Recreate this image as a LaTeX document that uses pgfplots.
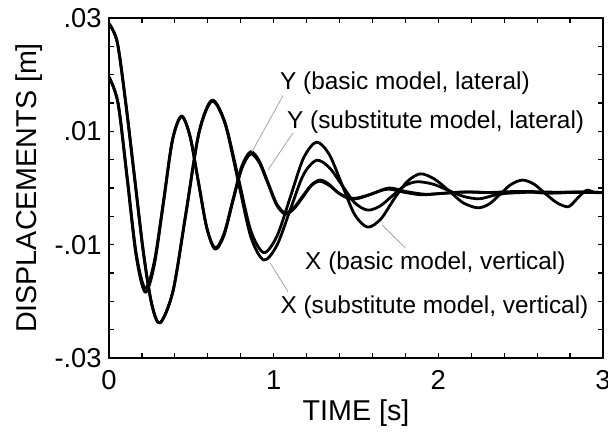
\documentclass[border=0pt]{standalone}
\usepackage{fontspec}
\setmainfont{Liberation Sans}
\usepackage{pgfplots}
\pgfplotsset{compat=1.18}

\newcommand{\lbl}{\fontsize{18.3}{21}\selectfont}
\newcommand{\axl}{\fontsize{21.5}{24}\selectfont}
\newcommand{\tkl}{\fontsize{20.5}{24}\selectfont}
\pgfplotsset{curve/.style={black, line width=2.1pt, smooth, line join=round, mark=none}}

\begin{document}
\begin{tikzpicture}
\begin{axis}[
    name=ax,
    at={(0,0)}, anchor=south west,
    scale only axis,
    width=370.5pt, height=255pt,
    xmin=0, xmax=3,
    ymin=-0.03, ymax=0.03,
    xtick={0,1,2,3},
    xticklabels={0,1,2,3},
    minor x tick num=4,
    ytick={-0.03,-0.01,0.01,0.03},
    yticklabels={-.03,-.01,.01,.03},
    minor y tick num=3,
    scaled y ticks=false,
    tick align=inside,
    major tick length=4pt,
    minor tick length=4pt,
    every tick/.style={black, line width=0.9pt},
    axis line style={line width=1.3pt},
    tick label style={font=\tkl},
    xticklabel style={yshift=-6pt},
    yticklabel style={xshift=-2pt},
    xlabel={TIME [s]},
    ylabel={DISPLACEMENTS [m]},
    label style={font=\axl},
    xlabel style={at={(axis description cs:0.5,-0.162)}, anchor=center},
    ylabel style={at={(axis description cs:-0.162,0.5)}, anchor=center},
    clip=true,
]

% X, basic model, vertical
\addplot[curve] coordinates {
(0.000,0.0290) (0.050,0.0258) (0.100,0.0155) (0.155,0.0020) (0.210,-0.0115)
(0.260,-0.0205) (0.310,-0.0238) (0.389,-0.0181) (0.468,-0.0042) (0.546,0.0098)
(0.625,0.0155) (0.704,0.0116) (0.783,0.0021) (0.861,-0.0075) (0.940,-0.0114)
(1.020,-0.0085) (1.100,-0.0017) (1.180,0.0052) (1.260,0.0081) (1.338,0.0059)
(1.415,0.0006) (1.492,-0.0047) (1.570,-0.0069) (1.650,-0.0055) (1.730,-0.0020)
(1.810,0.0011) (1.890,0.0025) (1.975,0.0016) (2.065,-0.0005) (2.150,-0.0026)
(2.240,-0.0035) (2.310,-0.0028) (2.375,-0.0011) (2.440,0.0006) (2.510,0.0014)
(2.580,0.0007) (2.650,-0.0010) (2.720,-0.0026) (2.790,-0.0033) (2.845,-0.0018)
(2.900,-0.0004) (2.950,-0.0008) (3.000,-0.0008)
};

% X, substitute model, vertical
\addplot[curve] coordinates {
(0.000,0.0290) (0.050,0.0257) (0.100,0.0153) (0.155,0.0018) (0.210,-0.0117)
(0.260,-0.0206) (0.310,-0.0238) (0.389,-0.0182) (0.468,-0.0044) (0.546,0.0096)
(0.625,0.0153) (0.704,0.0114) (0.783,0.0014) (0.861,-0.0086) (0.940,-0.0127)
(1.020,-0.0101) (1.100,-0.0039) (1.180,0.0023) (1.260,0.0049) (1.338,0.0036)
(1.415,0.0005) (1.492,-0.0026) (1.570,-0.0039) (1.645,-0.0032) (1.720,-0.0014)
(1.795,0.0004) (1.870,0.0011) (1.965,0.0007) (2.060,-0.0004) (2.155,-0.0015)
(2.250,-0.0019) (2.350,-0.0012) (2.450,-0.0008) (2.550,-0.0006) (2.700,-0.0009)
(2.850,-0.0007) (3.000,-0.0008)
};

% Y, basic model, lateral
\addplot[curve] coordinates {
(0.000,0.0196) (0.055,0.0150) (0.110,0.0020) (0.165,-0.0115) (0.220,-0.0177)
(0.275,-0.0130) (0.330,-0.0025) (0.385,0.0085) (0.440,0.0127) (0.492,0.0092)
(0.543,0.0011) (0.594,-0.0070) (0.645,-0.0106) (0.699,-0.0080) (0.752,-0.0021)
(0.806,0.0038) (0.860,0.0064) (0.912,0.0048) (0.965,0.0010) (1.018,-0.0028)
(1.070,-0.0044) (1.122,-0.0035) (1.175,-0.0015) (1.228,0.0005) (1.280,0.0014)
(1.330,0.0008) (1.390,-0.0008) (1.450,-0.0017) (1.500,-0.0018) (1.580,-0.0012)
(1.690,-0.0002) (1.800,-0.0008) (1.900,-0.0012) (2.000,-0.0010) (2.150,-0.0007)
(2.300,-0.0008) (2.500,-0.0006) (2.650,-0.0009) (2.800,-0.0007) (3.000,-0.0008)
};

% Y, substitute model, lateral
\addplot[curve] coordinates {
(0.000,0.0196) (0.055,0.0149) (0.110,0.0017) (0.165,-0.0120) (0.220,-0.0184)
(0.275,-0.0136) (0.330,-0.0028) (0.385,0.0083) (0.440,0.0126) (0.492,0.0091)
(0.543,0.0010) (0.594,-0.0071) (0.645,-0.0108) (0.699,-0.0083) (0.752,-0.0024)
(0.806,0.0034) (0.860,0.0060) (0.912,0.0045) (0.965,0.0008) (1.018,-0.0030)
(1.070,-0.0046) (1.122,-0.0037) (1.175,-0.0017) (1.228,0.0004) (1.280,0.0012)
(1.340,0.0004) (1.400,-0.0010) (1.460,-0.0019) (1.520,-0.0018) (1.600,-0.0010)
(1.700,0.0000) (1.800,-0.0006) (1.920,-0.0011) (2.050,-0.0009) (2.200,-0.0007)
(2.400,-0.0009) (2.600,-0.0007) (2.800,-0.0008) (3.000,-0.0008)
};

% labels and leader lines
\draw[gray!70, line width=0.6pt] (axis cs:1.057,0.0163) -- (axis cs:0.868,0.0064);
\draw[gray!70, line width=0.6pt] (axis cs:1.117,0.0097) -- (axis cs:0.965,0.0032);
\draw[gray!70, line width=0.6pt] (axis cs:1.800,-0.0106) -- (axis cs:1.658,-0.0065);
\draw[gray!70, line width=0.6pt] (axis cs:1.087,-0.0183) -- (axis cs:0.978,-0.0132);
\node[anchor=west, inner sep=0pt, font=\lbl] at (axis cs:1.038,0.0185) {Y (basic model, lateral)};
\node[anchor=west, inner sep=0pt, font=\lbl] at (axis cs:1.080,0.0116) {Y (substitute model, lateral)};
\node[anchor=west, inner sep=0pt, font=\lbl] at (axis cs:1.190,-0.0132) {X (basic model, vertical)};
\node[anchor=west, inner sep=0pt, font=\lbl] at (axis cs:1.040,-0.0210) {X (substitute model, vertical)};
\end{axis}
\pgfresetboundingbox
\path[use as bounding box] ([xshift=-81.75pt,yshift=-65.25pt]ax.south west) rectangle ([xshift=3.75pt,yshift=13.5pt]ax.north east);
\end{tikzpicture}
\end{document}
